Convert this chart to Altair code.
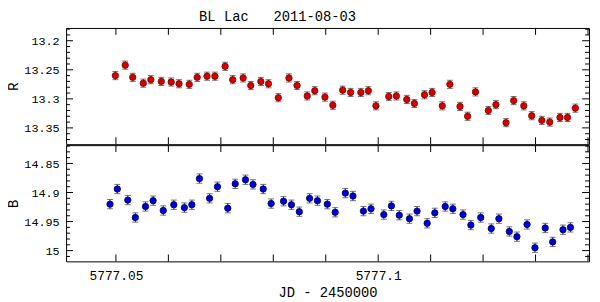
import altair as alt
import pandas as pd

# ---------------- data ----------------
jd_r = [5777.04989, 5777.05177, 5777.05320, 5777.05521, 5777.05665, 5777.05865,
        5777.06053, 5777.06203, 5777.06398, 5777.06549, 5777.06737, 5777.06887,
        5777.07081, 5777.07226, 5777.07425, 5777.07570, 5777.07763, 5777.07908,
        5777.08096, 5777.08299, 5777.08453, 5777.08647, 5777.08791, 5777.08985,
        5777.09135, 5777.09323, 5777.09474, 5777.09669, 5777.09812, 5777.09957,
        5777.10201, 5777.10346, 5777.10545, 5777.10690, 5777.10883, 5777.11028,
        5777.11222, 5777.11367, 5777.11560, 5777.11705, 5777.11855, 5777.12100,
        5777.12244, 5777.12438, 5777.12583, 5777.12776, 5777.12927, 5777.13120,
        5777.13271, 5777.13466, 5777.13609, 5777.13759]
mag_r = [13.260, 13.242, 13.263, 13.273, 13.267, 13.270, 13.271, 13.274, 13.275, 13.263,
         13.261, 13.261, 13.244, 13.267, 13.264, 13.277, 13.270, 13.274, 13.298, 13.264,
         13.277, 13.295, 13.286, 13.297, 13.311, 13.285, 13.289, 13.289, 13.286, 13.312,
         13.296, 13.295, 13.301, 13.308, 13.293, 13.289, 13.312, 13.275, 13.313, 13.330,
         13.288, 13.320, 13.310, 13.341, 13.303, 13.312, 13.329, 13.337, 13.340, 13.332,
         13.332, 13.316]
jd_b = [5777.04887, 5777.05026, 5777.05226, 5777.05370, 5777.05564, 5777.05709,
        5777.05902, 5777.06103, 5777.06305, 5777.06447, 5777.06592, 5777.06786,
        5777.06936, 5777.07132, 5777.07274, 5777.07470, 5777.07613, 5777.07808,
        5777.07959, 5777.08195, 5777.08346, 5777.08496, 5777.08692, 5777.08842,
        5777.09030, 5777.09180, 5777.09374, 5777.09519, 5777.09718, 5777.09863,
        5777.10107, 5777.10252, 5777.10402, 5777.10596, 5777.10741, 5777.10934,
        5777.11079, 5777.11278, 5777.11423, 5777.11617, 5777.11767, 5777.11955,
        5777.12156, 5777.12301, 5777.12500, 5777.12645, 5777.12838, 5777.12989,
        5777.13184, 5777.13327, 5777.13523, 5777.13665]
mag_b = [14.920, 14.894, 14.913, 14.943, 14.924, 14.914, 14.931, 14.921, 14.926, 14.921,
         14.876, 14.910, 14.890, 14.927, 14.885, 14.878, 14.886, 14.894, 14.919, 14.915,
         14.921, 14.933, 14.910, 14.914, 14.920, 14.934, 14.901, 14.906, 14.932, 14.928,
         14.938, 14.923, 14.939, 14.945, 14.932, 14.953, 14.935, 14.924, 14.928, 14.938,
         14.956, 14.943, 14.962, 14.945, 14.967, 14.976, 14.955, 14.995, 14.961, 14.985,
         14.964, 14.960]
err_r = 0.007
err_b = 0.008

r_major = [13.2, 13.25, 13.3, 13.35]
r_minor = [13.18, 13.19, 13.21, 13.22, 13.23, 13.24, 13.26, 13.27, 13.28, 13.29,
           13.31, 13.32, 13.33, 13.34, 13.36, 13.37]
b_major = [14.85, 14.9, 14.95, 15.0]
b_minor = [14.82, 14.83, 14.84, 14.86, 14.87, 14.88, 14.89, 14.91, 14.92, 14.93,
           14.94, 14.96, 14.97, 14.98, 14.99, 15.01]
x_major = [5777.05, 5777.06, 5777.07, 5777.08, 5777.09, 5777.10, 5777.11,
           5777.12, 5777.13, 5777.14]
x_labels = [5777.05, 5777.1]

x_domain = [5777.0405, 5777.1402]
r_domain = [13.178, 13.378]
b_domain = [14.8185, 15.0185]

W = 531
H = 118
FONT = "Liberation Mono"
MAJ = 7
MIN = 4
XTITLE = "JD - 2450000"


def panel(jd, mag, err, ydom, fill, stroke, ymaj, ymin, ytitle, bottom):
    df = pd.DataFrame({"jd": jd, "mag": mag})
    df["lo"] = df["mag"] - err
    df["hi"] = df["mag"] + err
    xs = alt.Scale(domain=x_domain, nice=False, zero=False)
    ys = alt.Scale(domain=ydom, reverse=True, nice=False, zero=False)

    if bottom:
        xaxis = alt.Axis(values=x_labels, labelExpr="toString(datum.value)",
                         tickSize=0, domain=False, grid=False, labelFontSize=13,
                         labelPadding=8, labelFlush=False, labelOverlap=False,
                         title=XTITLE, titlePadding=4)
    else:
        xaxis = None
    yaxis = alt.Axis(values=ymaj, labelExpr="toString(datum.value)",
                     tickSize=0, domain=False, grid=False, labelFontSize=12,
                     labelPadding=7, labelFlush=False, labelOverlap=False,
                     title=ytitle, titlePadding=3)

    def X(field):
        return alt.X(field, type="quantitative", scale=xs, axis=xaxis, title=XTITLE)

    def Y(field):
        return alt.Y(field, type="quantitative", scale=ys, axis=yaxis, title=ytitle)

    base = alt.Chart(df)
    errs = base.mark_rule(color="#3a3a3a", strokeWidth=1).encode(
        x=X("jd"), y=Y("lo"), y2="hi:Q")
    caps = base.transform_fold(["lo", "hi"], as_=["k", "cap"]).mark_tick(
        orient="horizontal", size=6, thickness=1, color="#3a3a3a"
    ).encode(x=X("jd"), y=Y("cap"))
    pts = base.mark_circle(size=42, fill=fill, stroke=stroke, strokeWidth=0.8,
                           opacity=1).encode(x=X("jd"), y=Y("mag"))

    layers = [errs, caps, pts]

    def yt(vals, length, left):
        d = pd.DataFrame({"v": vals})
        if left:
            xx, xx2 = alt.value(0), alt.value(length)
        else:
            xx, xx2 = alt.value(W - length), alt.value(W)
        return alt.Chart(d).mark_rule(color="black", strokeWidth=1).encode(
            y=Y("v"), x=xx, x2=xx2)

    def xt(vals, length, top):
        d = pd.DataFrame({"v": vals})
        if top:
            yy, yy2 = alt.value(0), alt.value(length)
        else:
            yy, yy2 = alt.value(H - length), alt.value(H)
        return alt.Chart(d).mark_rule(color="black", strokeWidth=1).encode(
            x=X("v"), y=yy, y2=yy2)

    layers += [yt(ymaj, MAJ, True), yt(ymin, MIN, True),
               yt(ymaj, MAJ, False), yt(ymin, MIN, False),
               xt(x_major, MAJ, True), xt(x_major, MAJ, False)]
    return alt.layer(*layers).properties(width=W, height=H)


top = panel(jd_r, mag_r, err_r, r_domain, "#d40000", "#7a0000",
            r_major, r_minor, "R", False)
bot = panel(jd_b, mag_b, err_b, b_domain, "#0000d0", "#00006a",
            b_major, b_minor, "B", True)

chart = alt.vconcat(top, bot, spacing=-5).properties(
    title=alt.TitleParams("BL Lac\u00a0\u00a0\u00a02011-08-03", font=FONT,
                          fontSize=14, fontWeight="normal", color="black",
                          anchor="middle", offset=3, dx=-21),
    padding={"left": -2, "top": 0, "right": 2, "bottom": 0},
).configure_view(
    stroke="black", strokeWidth=1
).configure_axis(
    labelFont=FONT, labelColor="black",
    titleFont=FONT, titleFontSize=14, titleFontWeight="normal", titleColor="black",
)

chart.save("out.html", embed_options={"renderer": "svg", "actions": False})
